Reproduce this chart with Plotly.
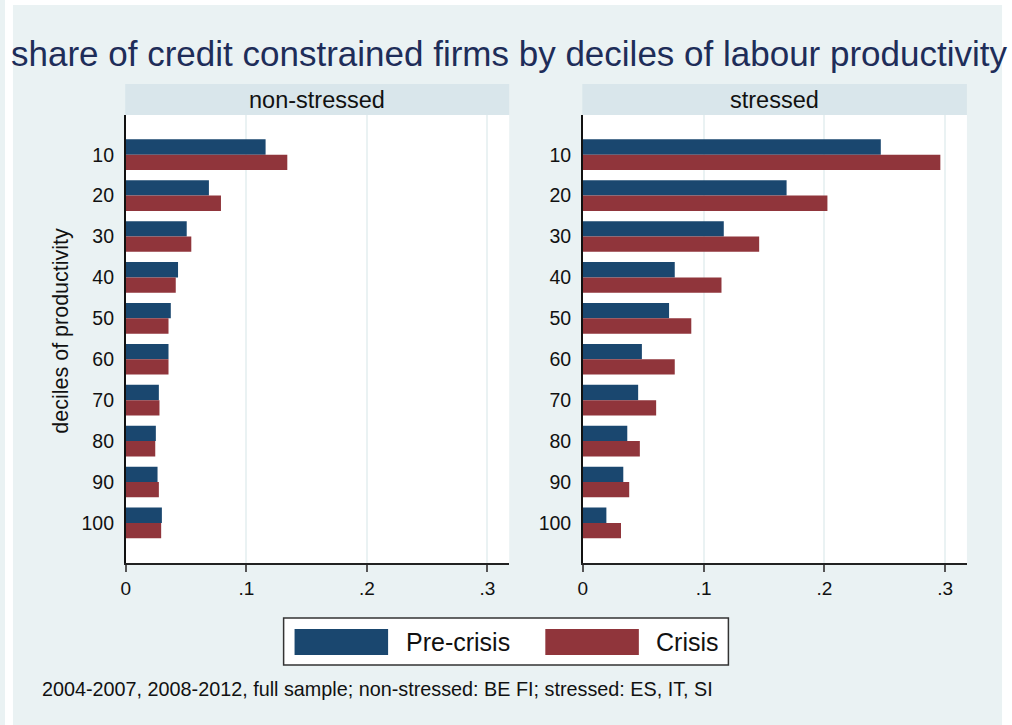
import plotly.graph_objects as go

# ---- data ----
deciles = ["10", "20", "30", "40", "50", "60", "70", "80", "90", "100"]
series_names = ["Pre-crisis", "Crisis"]
panel_names = ["non-stressed", "stressed"]
nonstressed_pre = [0.116, 0.069, 0.0506, 0.0434, 0.0374, 0.0355, 0.0275, 0.0250, 0.0264, 0.0300]
nonstressed_crisis = [0.134, 0.079, 0.0544, 0.0415, 0.0355, 0.0355, 0.0280, 0.0245, 0.0275, 0.0294]
stressed_pre = [0.2467, 0.1687, 0.1167, 0.0761, 0.0714, 0.0489, 0.0458, 0.0368, 0.0335, 0.0195]
stressed_crisis = [0.2960, 0.2025, 0.1460, 0.1148, 0.0898, 0.0761, 0.0607, 0.0472, 0.0384, 0.0316]
x_tickvals = [0, 0.1, 0.2, 0.3]
x_ticktext = ["0", ".1", ".2", ".3"]
title_text = "share of credit constrained firms by deciles of labour productivity"
ytitle_text = "deciles of productivity"
note_text = "2004-2007, 2008-2012, full sample; non-stressed: BE FI; stressed: ES, IT, SI"

# ---- style ----
W, H = 1012, 725
BG = "#EAF2F3"
STRIP = "#D9E6EB"
NAVY = "#1A476F"
MAROON = "#90353B"
FONT = "Liberation Sans, Arial, sans-serif"
colors = [NAVY, MAROON]


def px(x):
    return x / W


def py(y):
    return 1 - y / H


fig = go.Figure()
panels = [(nonstressed_pre, nonstressed_crisis), (stressed_pre, stressed_crisis)]
for i, (pre, cri) in enumerate(panels):
    ax = "" if i == 0 else "2"
    for name, vals, col in zip(series_names, (pre, cri), colors):
        fig.add_trace(go.Bar(
            x=vals, y=deciles, orientation="h", name=name,
            marker=dict(color=col, line=dict(width=0)),
            xaxis="x" + ax, yaxis="y" + ax, showlegend=False,
            hovertemplate="%{y}: %{x:.3f}<extra>" + name + "</extra>",
        ))

plot_x = [(121.3, 506.7), (580.7, 966.7)]
plot_y = (115, 563)

common_x = dict(
    range=[0, 0.318], tickvals=x_tickvals, ticktext=x_ticktext,
    showgrid=True, gridcolor=BG, gridwidth=1.5,
    zeroline=False, showline=True, linecolor="#222", linewidth=1.5,
    ticks="outside", ticklen=7, tickwidth=1.5, tickcolor="#555",
    tickfont=dict(family=FONT, size=19, color="#111"),
)
common_y = dict(
    type="category", categoryorder="array", categoryarray=deciles,
    range=[9.98, -0.97], showgrid=False, zeroline=False,
    showline=True, linecolor="#111", linewidth=1.5, ticks="",
    ticklabelstandoff=6,
    domain=[py(plot_y[1]), py(plot_y[0])],
)

fig.update_layout(
    xaxis=dict(domain=[px(plot_x[0][0]), px(plot_x[0][1])], anchor="y", **common_x),
    xaxis2=dict(domain=[px(plot_x[1][0]), px(plot_x[1][1])], anchor="y2", **common_x),
    yaxis=dict(anchor="x", tickfont=dict(family=FONT, size=19.5, color="#111"), **common_y),
    yaxis2=dict(anchor="x2", tickfont=dict(family=FONT, size=19.5, color="#111"), **common_y),
    barmode="group", bargap=0.25, bargroupgap=0,
    width=W, height=H, margin=dict(l=0, r=0, t=0, b=0),
    paper_bgcolor=BG, plot_bgcolor="white",
    font=dict(family=FONT, color="#111"),
)

shapes = [
    # white outer border strips
    dict(type="rect", xref="paper", yref="paper", x0=0, x1=1, y0=py(5), y1=1,
         fillcolor="white", line=dict(width=0)),
    dict(type="rect", xref="paper", yref="paper", x0=0, x1=px(8), y0=0, y1=1,
         fillcolor="white", line=dict(width=0)),
    dict(type="rect", xref="paper", yref="paper", x0=px(1002), x1=1, y0=0, y1=1,
         fillcolor="white", line=dict(width=0)),
]
annotations = []
for (x0, x1), pname in zip(plot_x, panel_names):
    shapes.append(dict(type="rect", xref="paper", yref="paper",
                       x0=px(x0 - 0.5), x1=px(x1), y0=py(115), y1=py(84),
                       fillcolor=STRIP, line=dict(width=0)))
    annotations.append(dict(text=pname, xref="paper", yref="paper",
                            x=px((x0 + x1) / 2), y=py(100), showarrow=False,
                            xanchor="center", yanchor="middle",
                            font=dict(family=FONT, size=23.5, color="#111")))

# title
annotations.append(dict(text=title_text, xref="paper", yref="paper",
                        x=px(507), y=py(53), showarrow=False,
                        xanchor="center", yanchor="middle",
                        font=dict(family=FONT, size=35, color="#1E2D59")))
# y axis title
annotations.append(dict(text=ytitle_text, xref="paper", yref="paper",
                        x=px(56), y=py(331), showarrow=False, textangle=-90,
                        xanchor="center", yanchor="middle",
                        font=dict(family=FONT, size=21.5, color="#111")))
# note
annotations.append(dict(text=note_text, xref="paper", yref="paper",
                        x=px(35), y=py(689), showarrow=False,
                        xanchor="left", yanchor="middle",
                        font=dict(family=FONT, size=19.8, color="#111")))

# legend (drawn as a box with large swatches, like the reference)
shapes.append(dict(type="rect", xref="paper", yref="paper",
                   x0=px(280), x1=px(727), y0=py(665), y1=py(618),
                   fillcolor="white", line=dict(color="#333", width=1.5)))
leg_items = [(291, 385, 401), (543, 637, 652)]
for (s0, s1, tx), name, col in zip(leg_items, series_names, colors):
    shapes.append(dict(type="rect", xref="paper", yref="paper",
                       x0=px(s0), x1=px(s1), y0=py(655), y1=py(629),
                       fillcolor=col, line=dict(width=0)))
    annotations.append(dict(text=name, xref="paper", yref="paper",
                            x=px(tx), y=py(642), showarrow=False,
                            xanchor="left", yanchor="middle",
                            font=dict(family=FONT, size=25, color="#111")))

fig.update_layout(shapes=shapes, annotations=annotations)
fig.write_html("out.html", config={"displayModeBar": False},
               post_script="document.body.style.margin='0';document.body.style.overflow='hidden';")
